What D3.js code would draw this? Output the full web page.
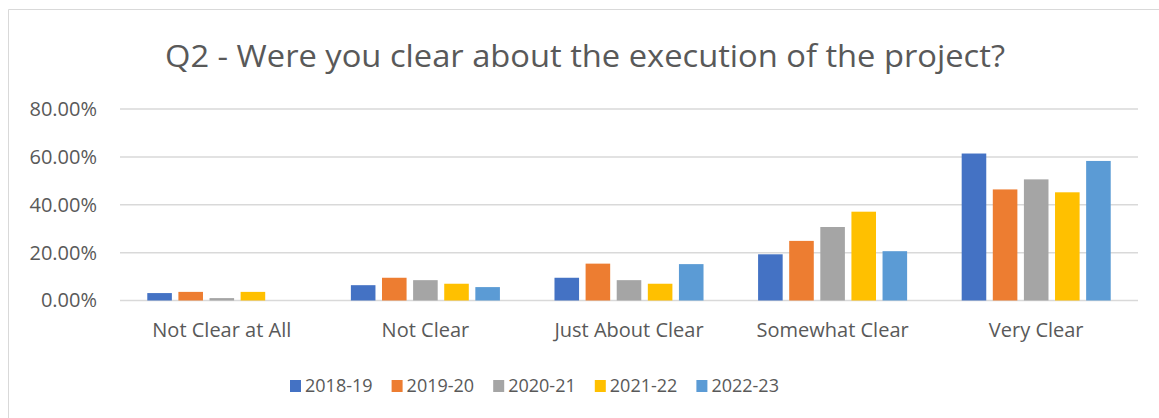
<!DOCTYPE html>
<html>
<head>
<meta charset="utf-8">
<script src="https://cdn.jsdelivr.net/npm/d3@7"></script>
<style>
  body { margin: 0; background: #fff; }
  svg text { font-family: "Open Sans", sans-serif; fill: #595959; }
</style>
</head>
<body>
<svg id="chart" width="1159" height="418"></svg>
<script>
// Answer categories along the x axis
var categories = ['Not Clear at All', 'Not Clear', 'Just About Clear', 'Somewhat Clear', 'Very Clear'];

// Survey years (one bar per year in each category)
var years = ['2018-19', '2019-20', '2020-21', '2021-22', '2022-23'];

// Share of answers per year, in category order
var v2018 = [0.031, 0.064, 0.095, 0.193, 0.614];
var v2019 = [0.036, 0.095, 0.154, 0.249, 0.464];
var v2020 = [0.010, 0.085, 0.085, 0.307, 0.506];
var v2021 = [0.036, 0.070, 0.070, 0.371, 0.452];
var v2022 = [0.000, 0.056, 0.152, 0.206, 0.583];

var yTicks = [0, 0.2, 0.4, 0.6, 0.8];

var colors = ['#4472C4', '#ED7D31', '#A5A5A5', '#FFC000', '#5B9BD5'];

var series = [v2018, v2019, v2020, v2021, v2022];

var svg = d3.select('#chart');

// Chart area border (only top and left show in the frame)
svg.append('line').attr('x1', 8.5).attr('x2', 1159).attr('y1', 9.5).attr('y2', 9.5)
    .attr('stroke', '#D9D9D9').attr('stroke-width', 1);
svg.append('line').attr('x1', 8.5).attr('x2', 8.5).attr('y1', 9.5).attr('y2', 418)
    .attr('stroke', '#D9D9D9').attr('stroke-width', 1);

// Title
svg.append('text')
    .attr('x', 585).attr('y', 67)
    .attr('text-anchor', 'middle')
    .attr('font-size', 31)
    .attr('textLength', 840)
    .attr('lengthAdjust', 'spacingAndGlyphs')
    .text('Q2 - Were you clear about the execution of the project?');

// Scales
var x0 = d3.scaleBand().domain(categories).range([120, 1138])
    .paddingInner(0.268).paddingOuter(0.134);
var x1 = d3.scaleBand().domain(years).range([0, x0.bandwidth()]).paddingInner(0.21);
var y = d3.scaleLinear().domain([0, 0.8]).range([300.5, 109]);

// Gridlines
svg.append('g').selectAll('line')
    .data(yTicks)
    .enter().append('line')
    .attr('x1', 120).attr('x2', 1138)
    .attr('y1', function(d) { return y(d); })
    .attr('y2', function(d) { return y(d); })
    .attr('stroke', '#D9D9D9').attr('stroke-width', 1.5);

// Y axis labels
var yAxis = d3.axisLeft(y).tickValues(yTicks).tickSize(0).tickPadding(0)
    .tickFormat(function(d) { return (d * 100).toFixed(2) + '%'; });
var yg = svg.append('g').attr('transform', 'translate(97,0)').call(yAxis);
yg.select('.domain').remove();
yg.selectAll('text').attr('font-size', 20).attr('font-family', null).attr('fill', null);

// Bars
var groups = svg.append('g').selectAll('g')
    .data(categories)
    .enter().append('g')
    .attr('transform', function(d) { return 'translate(' + x0(d) + ',0)'; });

groups.selectAll('rect')
    .data(function(d, ci) {
        return years.map(function(yr, si) { return { year: yr, value: series[si][ci], color: colors[si] }; });
    })
    .enter().append('rect')
    .attr('x', function(d) { return x1(d.year); })
    .attr('width', x1.bandwidth())
    .attr('y', function(d) { return y(d.value); })
    .attr('height', function(d) { return y(0) - y(d.value); })
    .attr('fill', function(d) { return d.color; });

// X axis labels
var xAxis = d3.axisBottom(x0).tickSize(0).tickPadding(0);
var xg = svg.append('g').attr('transform', 'translate(0,323)').call(xAxis);
xg.select('.domain').remove();
xg.selectAll('text').attr('font-size', 20).attr('font-family', null).attr('fill', null);

// Legend
var legend = svg.append('g').selectAll('g')
    .data(years)
    .enter().append('g')
    .attr('transform', function(d, i) { return 'translate(' + (290 + i * 101.6) + ',380)'; });
legend.append('rect').attr('width', 11).attr('height', 12)
    .attr('fill', function(d, i) { return colors[i]; });
legend.append('text').attr('x', 15).attr('y', 12)
    .attr('font-size', 18)
    .text(function(d) { return d; });
</script>
</body>
</html>
